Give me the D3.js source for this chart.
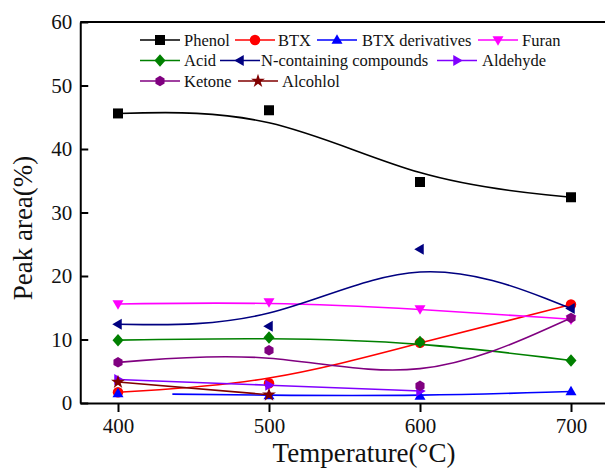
<!DOCTYPE html>
<html>
<head>
<meta charset="utf-8">
<script src="https://cdn.jsdelivr.net/npm/d3@7"></script>
<style>
  html, body { margin: 0; padding: 0; background: #fff; }
  svg text { font-family: "Liberation Serif", "Times New Roman", serif !important; fill: #111; }
</style>
</head>
<body>
<div id="main"></div>
<script>
const WIDTH = 605;
const HEIGHT = 468;
const SERIF = '"Liberation Serif", "Times New Roman", serif';

// x values (temperature, °C)
const temps = [400, 500, 600, 700];
const xTicks = [400, 500, 600, 700];
const yTicks = [0, 10, 20, 30, 40, 50, 60];

// peak area (%)
const phenol = [45.6, 46.1, 34.8, 32.4];
const btx = [1.7, 3.1, 9.5, 15.5];
const btxDeriv = [1.5, 1.2, 1.1, 1.8];
const furan = [15.6, 15.9, 14.8, 13.2];
const acid = [9.9, 10.3, 9.6, 6.7];
const nCompounds = [12.4, 12.1, 24.2, 14.9];
const aldehyde = [3.7, 2.8, 1.9];
const ketone = [6.4, 8.3, 2.7, 13.4];
const alcohol = [3.3, 1.3];

// the BTX derivatives fitted line only starts at this temperature
const btxDerivLineFrom = 436;

const series = [
  { name: 'Phenol', values: phenol, color: '#000000', shape: 'square' },
  { name: 'BTX', values: btx, color: '#ff0000', shape: 'circle' },
  { name: 'BTX derivatives', values: btxDeriv, color: '#0000ff', shape: 'up', from: btxDerivLineFrom },
  { name: 'Furan', values: furan, color: '#ff00ff', shape: 'down' },
  { name: 'Acid', values: acid, color: '#008000', shape: 'diamond' },
  { name: 'N-containing compounds', values: nCompounds, color: '#000080', shape: 'left' },
  { name: 'Aldehyde', values: aldehyde, color: '#8000ff', shape: 'right' },
  { name: 'Ketone', values: ketone, color: '#800080', shape: 'hexagon' },
  { name: 'Alcohlol', values: alcohol, color: '#800000', shape: 'star' }
];

// legend layout: [row, line start x, text x]
const legendPos = [
  [0, 140, 184], [0, 235, 278], [0, 317, 362], [0, 478, 522],
  [1, 140, 184], [1, 220, 261], [1, 437, 482],
  [2, 140, 184], [2, 238, 282]
];

const x = d3.scaleLinear().domain([375, 725]).range([80.25, 608.75]);
const y = d3.scaleLinear().domain([0, 60]).range([403, 22]);

/**
 * Marker paths
 */
function polygon(pts) {
  return 'M' + pts.map(p => p[0].toFixed(2) + ',' + p[1].toFixed(2)).join('L') + 'Z';
}

function rotate(pts, deg) {
  const a = deg * Math.PI / 180;
  return pts.map(([px, py]) => [px * Math.cos(a) - py * Math.sin(a), px * Math.sin(a) + py * Math.cos(a)]);
}

function markerPath(shape) {
  const r = 5;
  const tri = [[0, -1.15 * r], [1.1 * r, 0.75 * r], [-1.1 * r, 0.75 * r]];
  switch (shape) {
    case 'square': return polygon([[-r, -r], [r, -r], [r, r], [-r, r]]);
    case 'circle': return d3.symbol(d3.symbolCircle, Math.PI * r * r * 1.1)();
    case 'up': return polygon(tri);
    case 'down': return polygon(rotate(tri, 180));
    case 'left': return polygon(rotate(tri, -90));
    case 'right': return polygon(rotate(tri, 90));
    case 'diamond': return polygon([[0, -1.25 * r], [1.1 * r, 0], [0, 1.25 * r], [-1.1 * r, 0]]);
    case 'hexagon': return polygon(d3.range(6).map(i => {
      const a = Math.PI / 6 + i * Math.PI / 3;
      return [r * 1.05 * Math.cos(a), r * 1.05 * Math.sin(a)];
    }));
    case 'star': return d3.symbol(d3.symbolStar, 60)();
  }
}

/**
 * Render
 */
const svg = d3.select('#main').append('svg')
  .attr('width', WIDTH)
  .attr('height', HEIGHT)
  .attr('viewBox', [0, 0, WIDTH, HEIGHT])
  .attr('font-family', SERIF);

const line = d3.line()
  .x(d => x(d.t))
  .y(d => y(d.v))
  .curve(d3.curveBasis);

const defs = svg.append('defs');

series.forEach((s, i) => {
  const pts = s.values.map((v, j) => ({ t: temps[j], v }));
  let clip = null;
  if (s.from) {
    clip = 'clip-' + i;
    defs.append('clipPath').attr('id', clip)
      .append('rect')
      .attr('x', x(s.from)).attr('y', 0)
      .attr('width', WIDTH).attr('height', HEIGHT);
  }
  const g = svg.append('g');
  g.append('path')
    .datum(pts)
    .attr('d', line)
    .attr('fill', 'none')
    .attr('stroke', s.color)
    .attr('stroke-width', 1.6)
    .attr('clip-path', clip ? `url(#${clip})` : null);
  g.selectAll('.mk')
    .data(pts)
    .join('path')
    .attr('class', 'mk')
    .attr('transform', d => `translate(${x(d.t)},${y(d.v)})`)
    .attr('d', markerPath(s.shape))
    .attr('fill', s.color);
});

// axes
const xAxis = svg.append('g')
  .attr('transform', `translate(0,${y(0)})`)
  .call(d3.axisBottom(x).tickValues(xTicks).tickSizeInner(9).tickSizeOuter(0).tickPadding(6));

const yAxis = svg.append('g')
  .attr('transform', `translate(${x(375)},0)`)
  .call(d3.axisLeft(y).tickValues(yTicks).tickSizeInner(-8).tickSizeOuter(0).tickPadding(8));

[xAxis, yAxis].forEach(a => {
  a.attr('font-family', SERIF);
  a.select('.domain').attr('stroke', '#000').attr('stroke-width', 2);
  a.selectAll('.tick line').attr('stroke', '#000').attr('stroke-width', 2);
  a.selectAll('.tick text')
    .style('font-family', SERIF)
    .attr('font-size', 21)
    .attr('fill', '#222');
});

// top frame line
svg.append('line')
  .attr('x1', x(375)).attr('x2', x(725))
  .attr('y1', y(60)).attr('y2', y(60))
  .attr('stroke', '#000').attr('stroke-width', 2);

// axis titles
svg.append('text')
  .attr('x', 364)
  .attr('y', 462)
  .attr('text-anchor', 'middle')
  .attr('font-size', 27)
  .style('font-family', SERIF)
  .text('Temperature(°C)');

svg.append('text')
  .attr('transform', `translate(32,228) rotate(-90)`)
  .attr('text-anchor', 'middle')
  .attr('font-size', 27)
  .style('font-family', SERIF)
  .text('Peak area(%)');

// legend
const legendRows = [40, 60.5, 81];
const legend = svg.append('g');
series.forEach((s, i) => {
  const [row, lx, tx] = legendPos[i];
  const ly = legendRows[row];
  legend.append('line')
    .attr('x1', lx).attr('x2', lx + 40)
    .attr('y1', ly).attr('y2', ly)
    .attr('stroke', s.color).attr('stroke-width', 1.6);
  legend.append('path')
    .attr('transform', `translate(${lx + 20},${ly})`)
    .attr('d', markerPath(s.shape))
    .attr('fill', s.color);
  legend.append('text')
    .attr('x', tx)
    .attr('y', ly + 5.5)
    .attr('font-size', 16.5)
    .style('font-family', SERIF)
    .text(s.name);
});
</script>
</body>
</html>
